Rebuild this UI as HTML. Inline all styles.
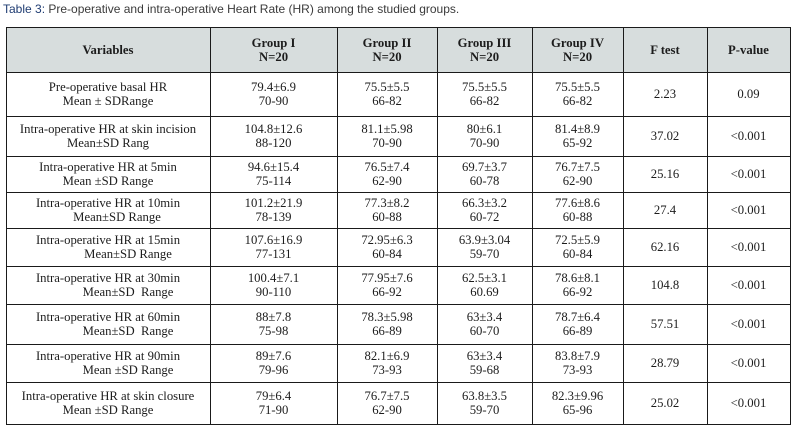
<!DOCTYPE html>
<html>
<head>
<meta charset="utf-8">
<style>
  html,body{margin:0;padding:0;background:#fff;}
  body{width:796px;height:431px;position:relative;overflow:hidden;}
  .title{position:absolute;left:3px;top:2px;font-family:"Liberation Sans",Arial,sans-serif;font-size:12px;line-height:14px;color:#3a3a3a;white-space:nowrap;}
  .title span{color:#1f3c72;}
  .hdrbg{position:absolute;left:6px;top:27px;width:784px;height:45px;background:#d7dddd;}
  .c{position:absolute;display:flex;flex-direction:column;align-items:center;justify-content:center;text-align:center;
     font-family:"Liberation Serif","DejaVu Serif",serif;font-size:12.7px;line-height:14.5px;color:#1c1c1c;white-space:nowrap;}
  .h{font-weight:bold;line-height:14px;}
  .hl{position:absolute;left:6px;width:785px;height:1px;background:#1a1a1a;}
  .vl{position:absolute;top:27px;height:398px;width:1px;background:#1a1a1a;}
</style>
</head>
<body>
<div class="title"><span>Table 3:</span> Pre-operative and intra-operative Heart Rate (HR) among the studied groups.</div>
<div class="hdrbg"></div>

<!-- header -->
<div class="c h" style="left:6px;top:27px;width:204px;height:45px;">Variables</div>
<div class="c h" style="left:210px;top:27px;width:127px;height:45px;"><div>Group I</div><div>N=20</div></div>
<div class="c h" style="left:337px;top:27px;width:100px;height:45px;"><div>Group II</div><div>N=20</div></div>
<div class="c h" style="left:437px;top:27px;width:95px;height:45px;"><div>Group III</div><div>N=20</div></div>
<div class="c h" style="left:532px;top:27px;width:91px;height:45px;"><div>Group IV</div><div>N=20</div></div>
<div class="c h" style="left:623px;top:27px;width:84px;height:45px;">F test</div>
<div class="c h" style="left:707px;top:27px;width:83px;height:45px;">P-value</div>

<!-- row 1: 72-116 -->
<div class="c" style="left:6px;top:72px;width:204px;height:44px;"><div>Pre-operative basal HR</div><div>Mean ± SDRange</div></div>
<div class="c" style="left:210px;top:72px;width:127px;height:44px;"><div>79.4±6.9</div><div>70-90</div></div>
<div class="c" style="left:337px;top:72px;width:100px;height:44px;"><div>75.5±5.5</div><div>66-82</div></div>
<div class="c" style="left:437px;top:72px;width:95px;height:44px;"><div>75.5±5.5</div><div>66-82</div></div>
<div class="c" style="left:532px;top:72px;width:91px;height:44px;"><div>75.5±5.5</div><div>66-82</div></div>
<div class="c" style="left:623px;top:72px;width:84px;height:44px;">2.23</div>
<div class="c" style="left:707px;top:72px;width:83px;height:44px;">0.09</div>

<!-- row 2: 116-156 -->
<div class="c" style="left:6px;top:116px;width:204px;height:40px;"><div>Intra-operative HR at skin incision</div><div>Mean±SD Rang</div></div>
<div class="c" style="left:210px;top:116px;width:127px;height:40px;"><div>104.8±12.6</div><div>88-120</div></div>
<div class="c" style="left:337px;top:116px;width:100px;height:40px;"><div>81.1±5.98</div><div>70-90</div></div>
<div class="c" style="left:437px;top:116px;width:95px;height:40px;"><div>80±6.1</div><div>70-90</div></div>
<div class="c" style="left:532px;top:116px;width:91px;height:40px;"><div>81.4±8.9</div><div>65-92</div></div>
<div class="c" style="left:623px;top:116px;width:84px;height:40px;">37.02</div>
<div class="c" style="left:707px;top:116px;width:83px;height:40px;">&lt;0.001</div>

<!-- row 3: 156-192 -->
<div class="c" style="left:6px;top:156px;width:204px;height:36px;"><div>Intra-operative HR at 5min</div><div>Mean ±SD Range</div></div>
<div class="c" style="left:210px;top:156px;width:127px;height:36px;"><div>94.6±15.4</div><div>75-114</div></div>
<div class="c" style="left:337px;top:156px;width:100px;height:36px;"><div>76.5±7.4</div><div>62-90</div></div>
<div class="c" style="left:437px;top:156px;width:95px;height:36px;"><div>69.7±3.7</div><div>60-78</div></div>
<div class="c" style="left:532px;top:156px;width:91px;height:36px;"><div>76.7±7.5</div><div>62-90</div></div>
<div class="c" style="left:623px;top:156px;width:84px;height:36px;">25.16</div>
<div class="c" style="left:707px;top:156px;width:83px;height:36px;">&lt;0.001</div>

<!-- row 4: 192-228 -->
<div class="c" style="left:6px;top:192px;width:204px;height:36px;"><div>Intra-operative HR at 10min</div><div style="transform:translateX(9px)">Mean±SD Range</div></div>
<div class="c" style="left:210px;top:192px;width:127px;height:36px;"><div>101.2±21.9</div><div>78-139</div></div>
<div class="c" style="left:337px;top:192px;width:100px;height:36px;"><div>77.3±8.2</div><div>60-88</div></div>
<div class="c" style="left:437px;top:192px;width:95px;height:36px;"><div>66.3±3.2</div><div>60-72</div></div>
<div class="c" style="left:532px;top:192px;width:91px;height:36px;"><div>77.6±8.6</div><div>60-88</div></div>
<div class="c" style="left:623px;top:192px;width:84px;height:36px;">27.4</div>
<div class="c" style="left:707px;top:192px;width:83px;height:36px;">&lt;0.001</div>

<!-- row 5: 228-266 -->
<div class="c" style="left:6px;top:228px;width:204px;height:38px;"><div>Intra-operative HR at 15min</div><div style="transform:translateX(20px)">Mean±SD Range</div></div>
<div class="c" style="left:210px;top:228px;width:127px;height:38px;"><div>107.6±16.9</div><div>77-131</div></div>
<div class="c" style="left:337px;top:228px;width:100px;height:38px;"><div>72.95±6.3</div><div>60-84</div></div>
<div class="c" style="left:437px;top:228px;width:95px;height:38px;"><div>63.9±3.04</div><div>59-70</div></div>
<div class="c" style="left:532px;top:228px;width:91px;height:38px;"><div>72.5±5.9</div><div>60-84</div></div>
<div class="c" style="left:623px;top:228px;width:84px;height:38px;">62.16</div>
<div class="c" style="left:707px;top:228px;width:83px;height:38px;">&lt;0.001</div>

<!-- row 6: 266-304 -->
<div class="c" style="left:6px;top:266px;width:204px;height:38px;"><div>Intra-operative HR at 30min</div><div style="transform:translateX(20px)">Mean±SD&nbsp; Range</div></div>
<div class="c" style="left:210px;top:266px;width:127px;height:38px;"><div>100.4±7.1</div><div>90-110</div></div>
<div class="c" style="left:337px;top:266px;width:100px;height:38px;"><div>77.95±7.6</div><div>66-92</div></div>
<div class="c" style="left:437px;top:266px;width:95px;height:38px;"><div>62.5±3.1</div><div>60.69</div></div>
<div class="c" style="left:532px;top:266px;width:91px;height:38px;"><div>78.6±8.1</div><div>66-92</div></div>
<div class="c" style="left:623px;top:266px;width:84px;height:38px;">104.8</div>
<div class="c" style="left:707px;top:266px;width:83px;height:38px;">&lt;0.001</div>

<!-- row 7: 304-344 -->
<div class="c" style="left:6px;top:304px;width:204px;height:40px;"><div>Intra-operative HR at 60min</div><div style="transform:translateX(20px)">Mean±SD&nbsp; Range</div></div>
<div class="c" style="left:210px;top:304px;width:127px;height:40px;"><div>88±7.8</div><div>75-98</div></div>
<div class="c" style="left:337px;top:304px;width:100px;height:40px;"><div>78.3±5.98</div><div>66-89</div></div>
<div class="c" style="left:437px;top:304px;width:95px;height:40px;"><div>63±3.4</div><div>60-70</div></div>
<div class="c" style="left:532px;top:304px;width:91px;height:40px;"><div>78.7±6.4</div><div>66-89</div></div>
<div class="c" style="left:623px;top:304px;width:84px;height:40px;">57.51</div>
<div class="c" style="left:707px;top:304px;width:83px;height:40px;">&lt;0.001</div>

<!-- row 8: 344-382 -->
<div class="c" style="left:6px;top:344px;width:204px;height:38px;"><div>Intra-operative HR at 90min</div><div style="transform:translateX(20px)">Mean ±SD Range</div></div>
<div class="c" style="left:210px;top:344px;width:127px;height:38px;"><div>89±7.6</div><div>79-96</div></div>
<div class="c" style="left:337px;top:344px;width:100px;height:38px;"><div>82.1±6.9</div><div>73-93</div></div>
<div class="c" style="left:437px;top:344px;width:95px;height:38px;"><div>63±3.4</div><div>59-68</div></div>
<div class="c" style="left:532px;top:344px;width:91px;height:38px;"><div>83.8±7.9</div><div>73-93</div></div>
<div class="c" style="left:623px;top:344px;width:84px;height:38px;">28.79</div>
<div class="c" style="left:707px;top:344px;width:83px;height:38px;">&lt;0.001</div>

<!-- row 9: 382-424 -->
<div class="c" style="left:6px;top:382px;width:204px;height:42px;"><div>Intra-operative HR at skin closure</div><div>Mean ±SD Range</div></div>
<div class="c" style="left:210px;top:382px;width:127px;height:42px;"><div>79±6.4</div><div>71-90</div></div>
<div class="c" style="left:337px;top:382px;width:100px;height:42px;"><div>76.7±7.5</div><div>62-90</div></div>
<div class="c" style="left:437px;top:382px;width:95px;height:42px;"><div>63.8±3.5</div><div>59-70</div></div>
<div class="c" style="left:532px;top:382px;width:91px;height:42px;"><div>82.3±9.96</div><div>65-96</div></div>
<div class="c" style="left:623px;top:382px;width:84px;height:42px;">25.02</div>
<div class="c" style="left:707px;top:382px;width:83px;height:42px;">&lt;0.001</div>

<!-- grid lines -->
<div class="hl" style="top:27px"></div>
<div class="hl" style="top:72px"></div>
<div class="hl" style="top:116px"></div>
<div class="hl" style="top:156px"></div>
<div class="hl" style="top:192px"></div>
<div class="hl" style="top:228px"></div>
<div class="hl" style="top:266px"></div>
<div class="hl" style="top:304px"></div>
<div class="hl" style="top:344px"></div>
<div class="hl" style="top:382px"></div>
<div class="hl" style="top:424px"></div>

<div class="vl" style="left:6px"></div>
<div class="vl" style="left:210px"></div>
<div class="vl" style="left:337px"></div>
<div class="vl" style="left:437px"></div>
<div class="vl" style="left:532px"></div>
<div class="vl" style="left:623px"></div>
<div class="vl" style="left:707px"></div>
<div class="vl" style="left:790px"></div>
</body>
</html>
